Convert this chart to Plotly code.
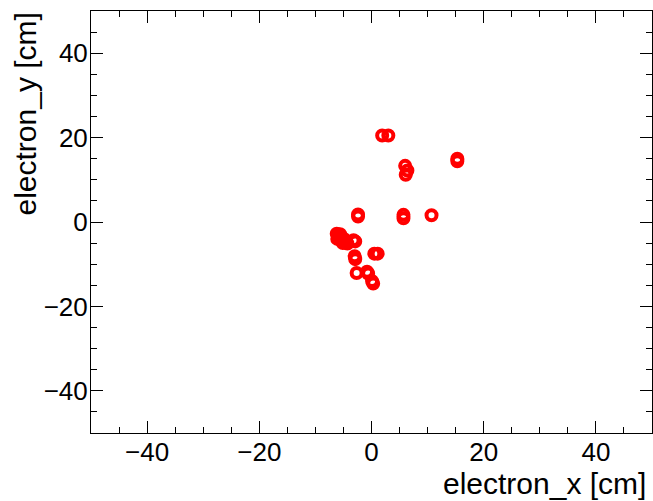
import plotly.graph_objects as go

# electron vertex positions (cm)
electron_x = [
    1.9, 3.0,
    15.3, 15.3,
    6.0, 6.4, 6.1,
    -2.4, -2.4,
    5.7, 5.7,
    10.7,
    -6.2, -5.9, -5.6, -5.3, -4.9, -4.6, -5.6, -6.1, -4.3, -3.2, -2.9, -5.1, -5.8,
    0.5, 1.1,
    -3.0, -2.9,
    -2.65,
    -0.8, -0.6,
    0.1, 0.3,
]
electron_y = [
    20.5, 20.5,
    14.4, 15.0,
    13.3, 12.2, 11.2,
    1.3, 1.8,
    0.9, 1.7,
    1.6,
    -2.8, -3.3, -3.8, -4.4, -4.0, -4.8, -2.9, -4.0, -5.1, -4.3, -4.6, -5.0, -3.6,
    -7.5, -7.5,
    -8.1, -8.8,
    -12.1,
    -11.8, -12.2,
    -14.0, -14.6,
]

x_range = [-50, 50]
y_range = [-50, 50]
tick_vals = [-40, -20, 0, 20, 40]

FONT = "Liberation Sans, Arial, Helvetica, sans-serif"

fig = go.Figure()
fig.add_trace(go.Scatter(
    x=electron_x, y=electron_y, mode="markers",
    marker=dict(symbol="circle-open", size=10, color="#ff0000",
                line=dict(width=4, color="#ff0000")),
    showlegend=False, hoverinfo="x+y",
))

axis_common = dict(
    showgrid=False, zeroline=False,
    showline=True, linecolor="black", linewidth=1, mirror="allticks",
    ticks="inside", ticklen=12, tickwidth=1, tickcolor="black",
    tickvals=tick_vals,
    tickfont=dict(family=FONT, size=26, color="black"),
    minor=dict(dtick=5, tick0=0, ticks="inside", ticklen=6,
               tickwidth=1, tickcolor="black", showgrid=False),
)

fig.update_xaxes(range=x_range, ticklabelstandoff=-4, **axis_common)
fig.update_yaxes(range=y_range, ticklabelstandoff=-3, **axis_common)

fig.add_annotation(
    text="electron_x [cm]", xref="paper", yref="paper",
    x=1, y=0, xanchor="right", yanchor="middle", yshift=-50, xshift=-4,
    showarrow=False, font=dict(family=FONT, size=30, color="black"),
)
fig.add_annotation(
    text="electron_y [cm]", xref="paper", yref="paper",
    x=0, y=1, xanchor="center", yanchor="top", xshift=-66,
    textangle=-90,
    showarrow=False, font=dict(family=FONT, size=30, color="black"),
)

fig.update_layout(
    width=653, height=501,
    margin=dict(l=91, r=1, t=11, b=68),
    paper_bgcolor="white", plot_bgcolor="white",
)

fig.write_html("out.html")
